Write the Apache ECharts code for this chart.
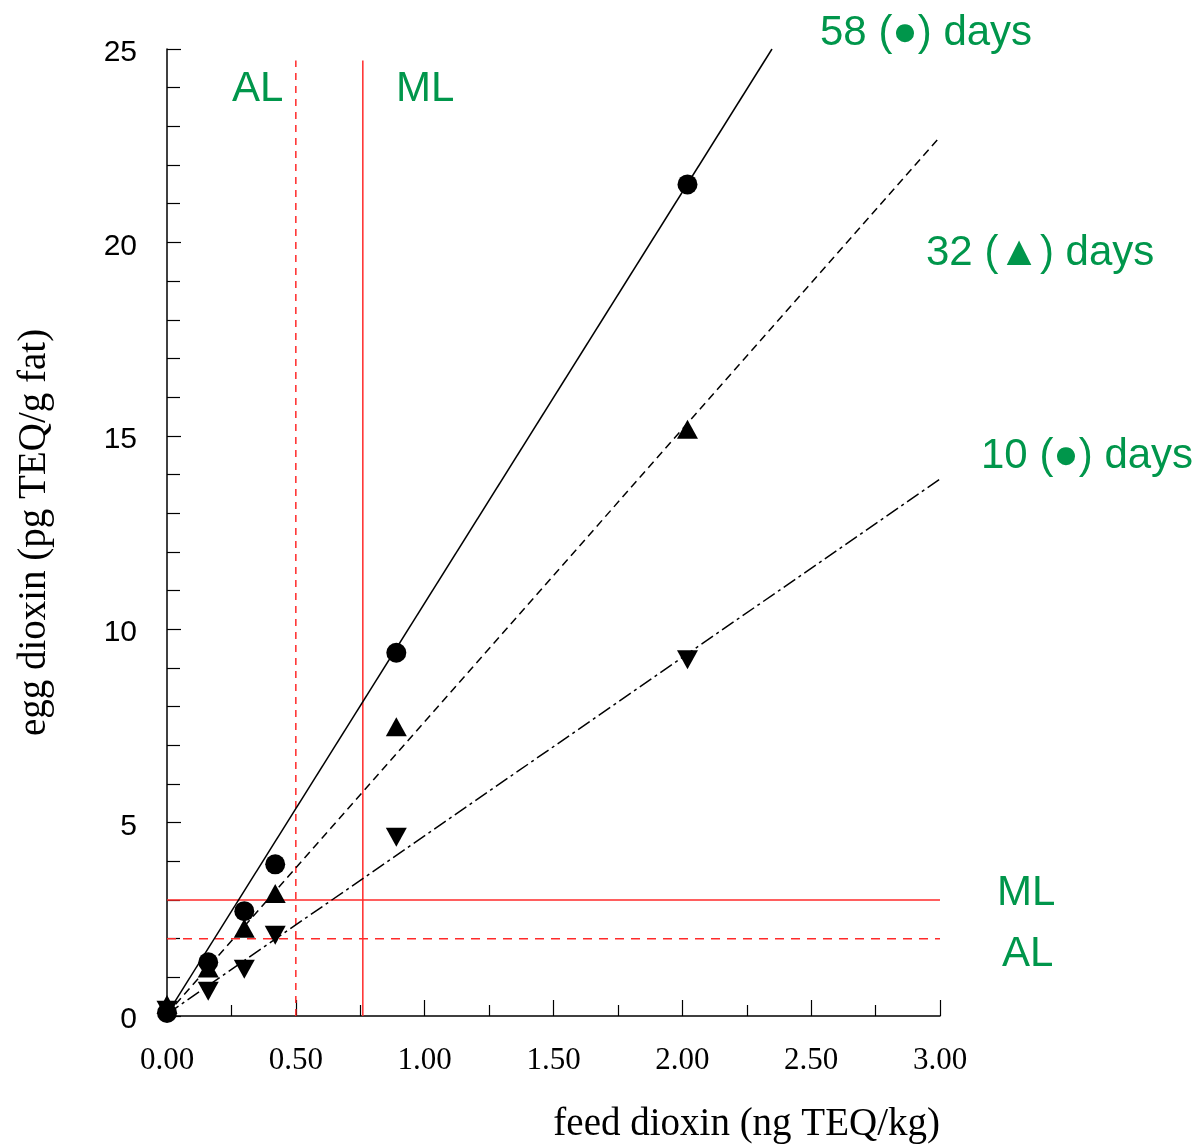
<!DOCTYPE html>
<html>
<head>
<meta charset="utf-8">
<title>egg dioxin vs feed dioxin</title>
<script src="https://cdn.jsdelivr.net/npm/echarts@6/dist/echarts.min.js"></script>
<style>
  html, body { margin: 0; padding: 0; background: #fff; }
  #chart { width: 1202px; height: 1144px; }
</style>
</head>
<body>
<div id="chart"></div>
<script>
// feed dioxin levels (ng TEQ/kg)
const feedLevels = [0, 0.16, 0.30, 0.42, 0.89, 2.02]
// egg dioxin (pg TEQ/g fat) after 58, 32 and 10 days
const days58 = [0.08, 1.39, 2.71, 3.92, 9.39, 21.5]
const days32 = [0.3, 1.24, 2.27, 3.17, 7.48, 15.17]
const days10 = [0.15, 0.64, 1.21, 2.09, 4.62, 9.21]

// fitted lines, start and end points
const fit58 = [[0, 0.05], [2.348, 25]]
const fit32 = [[0, 0.05], [3.0, 22.73]]
const fit10 = [[0, 0.05], [3.0, 13.88]]

// action level / maximum level
const feedAL = 0.5
const feedML = 0.76
const eggAL = 2
const eggML = 3
const refTop = 24.7

const xTicks = ['0.00', '0.50', '1.00', '1.50', '2.00', '2.50', '3.00']

const green = '#00964b'
const red = '#ff2a2a'

function pairs(xs, ys) {
  return xs.map((x, i) => [x, ys[i]])
}

const chart = echarts.init(document.getElementById('chart'))

const fitLine = (data, type) => ({
  type: 'line',
  data: data,
  symbol: 'none',
  silent: true,
  z: 3,
  lineStyle: { color: '#000', width: 1.5, type: type },
})

const refLine = (data, type) => ({
  type: 'line',
  data: data,
  symbol: 'none',
  silent: true,
  clip: false,
  z: 2,
  lineStyle: { color: red, width: 1.5, type: type },
})

const greenText = (text, left, top) => ({
  type: 'text',
  left: left,
  top: top,
  style: {
    text: text,
    fill: green,
    font: '42px "Liberation Sans", Arial, sans-serif',
  },
})

const markers = (name, ys, symbol, size, rotate, z) => ({
  name: name,
  type: 'scatter',
  data: pairs(feedLevels, ys),
  symbol: symbol,
  symbolRotate: rotate,
  symbolSize: size,
  itemStyle: { color: '#000', opacity: 1 },
  z: z,
})

chart.setOption({
  animation: false,
  grid: { left: 167, right: 262, top: 49, bottom: 126 },
  xAxis: {
    type: 'value',
    min: 0,
    max: 3,
    interval: 0.5,
    name: 'feed dioxin (ng TEQ/kg)',
    nameLocation: 'end',
    nameGap: 0,
    nameTextStyle: {
      fontFamily: '"Liberation Serif", "Times New Roman", serif',
      fontSize: 39,
      color: '#000',
      align: 'right',
      verticalAlign: 'top',
      padding: [89, 0, 0, 0],
    },
    axisLine: { lineStyle: { color: '#000', width: 1.5 } },
    axisTick: { inside: true, length: 16, lineStyle: { color: '#000', width: 1.2 } },
    minorTick: { show: true, splitNumber: 2, length: 11, lineStyle: { color: '#000', width: 1.2 } },
    splitLine: { show: false },
    axisLabel: {
      margin: 29,
      color: '#000',
      fontSize: 31,
      fontFamily: '"Liberation Serif", "Times New Roman", serif',
      formatter: (v) => xTicks[Math.round(v / 0.5)],
    },
  },
  yAxis: {
    type: 'value',
    min: 0,
    max: 25,
    interval: 5,
    name: 'egg dioxin (pg TEQ/g fat)',
    nameLocation: 'middle',
    nameGap: 113,
    nameRotate: 90,
    nameTextStyle: {
      fontFamily: '"Liberation Serif", "Times New Roman", serif',
      fontSize: 39,
      color: '#000',
    },
    axisLine: { show: true, lineStyle: { color: '#000', width: 1.5 } },
    axisTick: { show: true, inside: true, length: 14, lineStyle: { color: '#000', width: 1.2 } },
    minorTick: { show: true, splitNumber: 5, length: 13, lineStyle: { color: '#000', width: 1.2 } },
    splitLine: { show: false },
    axisLabel: {
      margin: 30,
      formatter: (v) => '{n|' + v + '}',
      rich: {
        n: {
          color: '#000',
          fontSize: 30,
          padding: [8, 0, 0, 0],
          fontFamily: '"Liberation Sans", Arial, sans-serif',
        },
      },
    },
  },
  series: [
    refLine([[feedAL, 0], [feedAL, refTop]], [7, 6]),
    refLine([[feedML, 0], [feedML, refTop]], 'solid'),
    refLine([[0, eggAL], [3, eggAL]], [9, 7]),
    refLine([[0, eggML], [3, eggML]], 'solid'),
    fitLine(fit58, 'solid'),
    fitLine(fit32, [8, 5]),
    fitLine(fit10, [14, 4, 3, 4]),
    markers('10 days', days10, 'triangle', [21, 19], 180, 4),
    markers('32 days', days32, 'triangle', [21, 19], 0, 4),
    markers('58 days', days58, 'circle', 20, 0, 5),
  ],
  graphic: [
    greenText('58 (\u25CF) days', 820, 12),
    greenText('32 (\u25B2) days', 926, 232),
    greenText('10 (\u25CF) days', 981, 435),
    greenText('AL', 232, 68),
    greenText('ML', 396, 68),
    greenText('ML', 997, 872),
    greenText('AL', 1002, 933),
  ],
})
</script>
</body>
</html>
